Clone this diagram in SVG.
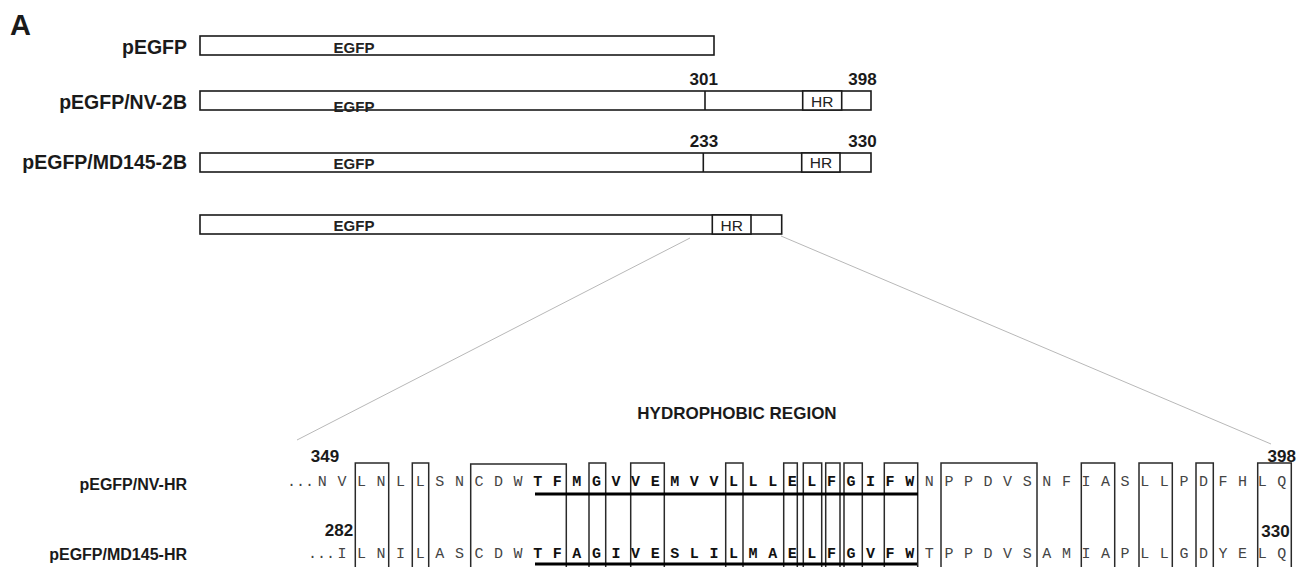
<svg xmlns="http://www.w3.org/2000/svg" width="1299" height="567" viewBox="0 0 1299 567">
<style>
.lbl{font-family:"Liberation Sans",Arial,sans-serif;font-weight:bold;fill:#1a1a1a}
.big{font-size:19.5px;text-anchor:end}
.sm{font-size:16px;text-anchor:end}
.num{font-family:"Liberation Sans",Arial,sans-serif;font-weight:bold;font-size:17px;fill:#1a1a1a;text-anchor:middle}
.egfp{font-family:"Liberation Sans",Arial,sans-serif;font-weight:bold;font-size:15px;fill:#222;text-anchor:middle}
.hr{font-family:"Liberation Sans",Arial,sans-serif;font-size:15.5px;fill:#222;text-anchor:middle}
.bar{fill:#fff;stroke:#1a1a1a;stroke-width:1.6}
.div{stroke:#1a1a1a;stroke-width:1.6}
.seq{font-family:"Liberation Mono","Courier New",monospace;font-size:15px;fill:#444;text-anchor:middle}
.seqb{font-family:"Liberation Mono","Courier New",monospace;font-size:15px;font-weight:bold;fill:#111;text-anchor:middle}
.box{fill:none;stroke:#2a2a2a;stroke-width:1.5}
.ul{stroke:#000;stroke-width:3}
.zoom{stroke:#b8b8b8;stroke-width:1;fill:none}
</style>
<rect width="1299" height="567" fill="#fff"/>
<text x="10" y="35" class="lbl" style="font-size:29px">A</text>

<g id="construct-pEGFP">
<text x="187" y="54" class="lbl big">pEGFP</text>
<rect x="200" y="36" width="514" height="19" class="bar"/>
<text x="354" y="53" class="egfp">EGFP</text>
</g>

<g id="construct-NV-2B">
<text x="187" y="108.5" class="lbl big">pEGFP/NV-2B</text>
<rect x="200" y="91" width="671" height="19" class="bar"/>
<line x1="705" y1="91" x2="705" y2="110" class="div"/>
<rect x="802.7" y="91" width="39" height="19" class="bar"/>
<text x="354" y="111.5" class="egfp">EGFP</text>
<text x="822.2" y="106.5" class="hr">HR</text>
<text x="703.8" y="85" class="num">301</text>
<text x="862.5" y="85" class="num">398</text>
</g>

<g id="construct-MD145-2B">
<text x="187" y="168.5" class="lbl big">pEGFP/MD145-2B</text>
<rect x="200" y="153" width="671" height="19" class="bar"/>
<line x1="703.3" y1="153" x2="703.3" y2="172" class="div"/>
<rect x="801.7" y="153" width="38.3" height="19" class="bar"/>
<text x="354" y="168.5" class="egfp">EGFP</text>
<text x="820.9" y="168.3" class="hr">HR</text>
<text x="704" y="147" class="num">233</text>
<text x="862.5" y="147" class="num">330</text>
</g>

<g id="construct-HR">
<rect x="200" y="215" width="581.7" height="19" class="bar"/>
<rect x="712.3" y="215" width="38.7" height="19" class="bar"/>
<text x="354" y="231" class="egfp">EGFP</text>
<text x="731.7" y="230.7" class="hr">HR</text>
</g>

<g id="connectors">
<line x1="690" y1="238" x2="297" y2="440" class="zoom"/>
<line x1="781" y1="236" x2="1271" y2="444" class="zoom"/>
</g>

<g id="title">
<text x="737" y="419" class="lbl" style="font-size:17px;text-anchor:middle">HYDROPHOBIC REGION</text>
</g>

<g id="boxes">
<rect x="355.3" y="463" width="33.4" height="130" class="box"/>
<rect x="412.3" y="463" width="16.4" height="130" class="box"/>
<rect x="470.7" y="464" width="95.6" height="130" class="box"/>
<rect x="589" y="463" width="16.7" height="130" class="box"/>
<rect x="630.7" y="463" width="33.6" height="130" class="box"/>
<rect x="725.7" y="463" width="17.3" height="130" class="box"/>
<rect x="783.7" y="463" width="13.6" height="130" class="box"/>
<rect x="803.3" y="463" width="18.4" height="130" class="box"/>
<rect x="825.7" y="463" width="14.3" height="130" class="box"/>
<rect x="844" y="463" width="18.3" height="130" class="box"/>
<rect x="884.3" y="463" width="33.4" height="130" class="box"/>
<rect x="941" y="463" width="96" height="130" class="box"/>
<rect x="1081.3" y="463" width="33.4" height="130" class="box"/>
<rect x="1139" y="463" width="33.3" height="130" class="box"/>
<rect x="1196" y="463" width="17.3" height="130" class="box"/>
<rect x="1257.7" y="463" width="33.6" height="130" class="box"/>
</g>

<g id="row-NV-HR">
<text x="187" y="490" class="lbl sm">pEGFP/NV-HR</text>
<text x="325" y="462" class="num">349</text>
<text x="1281.7" y="461.5" class="num">398</text>
<text x="314" y="486" class="seq" style="text-anchor:end">...</text>
<text y="486" class="seq" x="322.3 341.9 361.5 381.0 400.6 420.2 439.8 459.4 478.9 498.5 518.1">NVLNLLSNCDW</text>
<text y="486" class="seqb" x="537.7 557.3 576.8 596.4 616.0 635.6 655.2 674.7 694.3 713.9 733.5 753.1 772.7 792.2 811.8 831.4 851.0 870.6 890.1 909.7">TFMGVVEMVVLLLELFGIFW</text>
<text y="486" class="seq" x="929.3 948.9 968.5 988.0 1007.6 1027.2 1046.8 1066.4 1086.0 1105.5 1125.1 1144.7 1164.3 1183.9 1203.4 1223.0 1242.6 1262.2 1281.8">NPPDVSNFIASLLPDFHLQ</text>
<line x1="535" y1="494" x2="918" y2="494" class="ul"/>
</g>

<g id="row-MD145-HR">
<text x="187" y="560" class="lbl sm">pEGFP/MD145-HR</text>
<text x="339" y="535.5" class="num">282</text>
<text x="1275.5" y="537" class="num">330</text>
<text x="335" y="558" class="seq" style="text-anchor:end">...</text>
<text y="558" class="seq" x="341.9 361.5 381.0 400.6 420.2 439.8 459.4 478.9 498.5 518.1">ILNILASCDW</text>
<text y="558" class="seqb" x="537.7 557.3 576.8 596.4 616.0 635.6 655.2 674.7 694.3 713.9 733.5 753.1 772.7 792.2 811.8 831.4 851.0 870.6 890.1 909.7">TFAGIVESLILMAELFGVFW</text>
<text y="558" class="seq" x="929.3 948.9 968.5 988.0 1007.6 1027.2 1046.8 1066.4 1086.0 1105.5 1125.1 1144.7 1164.3 1183.9 1203.4 1223.0 1242.6 1262.2 1281.8">TPPDVSAMIAPLLGDYELQ</text>
<line x1="535" y1="564" x2="917" y2="564" class="ul"/>
</g>
</svg>
